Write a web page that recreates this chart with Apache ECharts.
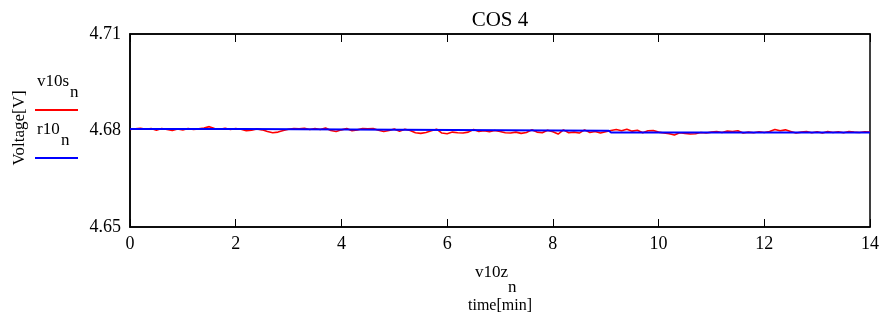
<!DOCTYPE html>
<html>
<head>
<meta charset="utf-8">
<script src="https://cdn.jsdelivr.net/npm/echarts@6/dist/echarts.min.js"></script>
<style>
html,body{margin:0;padding:0;background:#fff;}
#chart{width:882px;height:320px;}
</style>
</head>
<body>
<div id="chart"></div>
<script>
// time axis (minutes) for the red trace, 0.1 min steps
var redTimes = [];
for (var i = 0; i <= 140; i++) { redTimes.push(+(i / 10).toFixed(1)); }

// v10s_n (red) values
var redValues = [
  4.6803,4.6805,4.6807,4.6804,4.6806,4.6801,4.6806,4.6803,4.6800,4.6805,
  4.6802,4.6806,4.6803,4.6805,4.6808,4.6812,4.6806,4.6804,4.6807,4.6803,
  4.6806,4.6804,4.6799,4.6801,4.6805,4.6802,4.6797,4.6793,4.6795,4.6800,
  4.6804,4.6806,4.6805,4.6807,4.6803,4.6806,4.6803,4.6808,4.6800,4.6797,
  4.6802,4.6806,4.6799,4.6802,4.6806,4.6805,4.6806,4.6801,4.6797,4.6800,
  4.6805,4.6798,4.6804,4.6800,4.6793,4.6791,4.6794,4.6799,4.6804,4.6792,
  4.6790,4.6795,4.6793,4.6792,4.6795,4.6803,4.6797,4.6799,4.6796,4.6800,
  4.6797,4.6793,4.6792,4.6795,4.6791,4.6794,4.6802,4.6795,4.6793,4.6801,
  4.6796,4.6789,4.6802,4.6793,4.6795,4.6792,4.6802,4.6794,4.6797,4.6792,
  4.6796,4.6800,4.6803,4.6799,4.6804,4.6798,4.6801,4.6793,4.6799,4.6800,
  4.6795,4.6792,4.6790,4.6786,4.6793,4.6791,4.6789,4.6790,4.6794,4.6792,
  4.6795,4.6797,4.6794,4.6798,4.6797,4.6799,4.6792,4.6795,4.6793,4.6796,
  4.6794,4.6797,4.6803,4.6799,4.6802,4.6797,4.6792,4.6795,4.6797,4.6793,
  4.6796,4.6792,4.6797,4.6794,4.6796,4.6793,4.6797,4.6795,4.6794,4.6796,
  4.6795
];

// r10_n (blue) reference trace: step levels
var blueTimes  = [0, 2.18, 2.2, 9.06, 9.1, 14];
var blueValues = [4.6805, 4.6805, 4.6799, 4.6799, 4.6794, 4.6794];

var xTicks = [0, 2, 4, 6, 8, 10, 12, 14];
var yTicks = [4.65, 4.68, 4.71];

var titleText = 'COS 4';
var yName = 'Voltage[V]';
var legendNames = ['v10s', 'r10'];
var xName1 = 'v10z';
var xName2 = 'time[min]';
var subText = 'n';

function zip(a, b) { return a.map(function (t, i) { return [t, b[i]]; }); }

var FONT = '"Liberation Serif", "DejaVu Serif", serif';
var chart = echarts.init(document.getElementById('chart'), null, {renderer: 'canvas'});

function txt(s, x, y, size, align) {
  return {type: 'text', x: x, y: y,
    style: {text: s, font: size + 'px ' + FONT, fill: '#000', align: align || 'left', verticalAlign: 'middle'}};
}

chart.setOption({
  animation: false,
  backgroundColor: '#fff',
  grid: {left: 130, right: 12, top: 34, bottom: 93, show: true, borderColor: '#000', borderWidth: 1.5},
  xAxis: [{
    type: 'value', min: 0, max: 14, interval: 2, position: 'bottom',
    axisLine: {show: true, lineStyle: {color: '#000', width: 1.5}},
    axisTick: {show: true, inside: true, length: 8, lineStyle: {color: '#000'}},
    axisLabel: {fontFamily: FONT, fontSize: 18, color: '#000', margin: 8,
      formatter: function (v) { return xTicks.indexOf(v) >= 0 ? String(v) : ''; }},
    splitLine: {show: false}
  }, {
    type: 'value', min: 0, max: 14, interval: 2, position: 'top',
    axisLine: {show: true, lineStyle: {color: '#000', width: 1.5}},
    axisTick: {show: true, inside: true, length: 8, lineStyle: {color: '#000'}},
    axisLabel: {show: false}, splitLine: {show: false}
  }],
  yAxis: {
    type: 'value', min: 4.65, max: 4.71, interval: 0.03,
    axisLine: {show: true, lineStyle: {color: '#000', width: 1.5}},
    axisTick: {show: false},
    axisLabel: {fontFamily: FONT, fontSize: 18, color: '#000', margin: 9,
      formatter: function (v) { return yTicks.indexOf(+v.toFixed(2)) >= 0 ? v.toFixed(2) : ''; }},
    splitLine: {show: false}
  },
  series: [{
    name: legendNames[0], type: 'line', xAxisIndex: 0, data: zip(redTimes, redValues),
    showSymbol: false, lineStyle: {color: '#ff0000', width: 1.6}, z: 2
  }, {
    name: legendNames[1], type: 'line', xAxisIndex: 0, data: zip(blueTimes, blueValues),
    showSymbol: false, lineStyle: {color: '#0000ff', width: 2}, z: 3
  }],
  graphic: [
    txt(titleText, 500, 20, 21, 'center'),
    {type: 'text', x: 20, y: 128, rotation: Math.PI / 2,
      style: {text: yName, font: '17px ' + FONT, fill: '#000', align: 'center', verticalAlign: 'middle'}},
    txt(legendNames[0], 37, 82, 17),
    txt(subText, 70, 93, 17),
    {type: 'line', shape: {x1: 35, y1: 110, x2: 78, y2: 110}, style: {stroke: '#ff0000', lineWidth: 2}},
    txt(legendNames[1], 37, 130, 17),
    txt(subText, 61, 141, 17),
    {type: 'line', shape: {x1: 35, y1: 158, x2: 78, y2: 158}, style: {stroke: '#0000ff', lineWidth: 2}},
    txt(xName1, 475, 273, 17),
    txt(subText, 508, 288, 17),
    txt(xName2, 500, 306, 16, 'center')
  ]
});
</script>
</body>
</html>
